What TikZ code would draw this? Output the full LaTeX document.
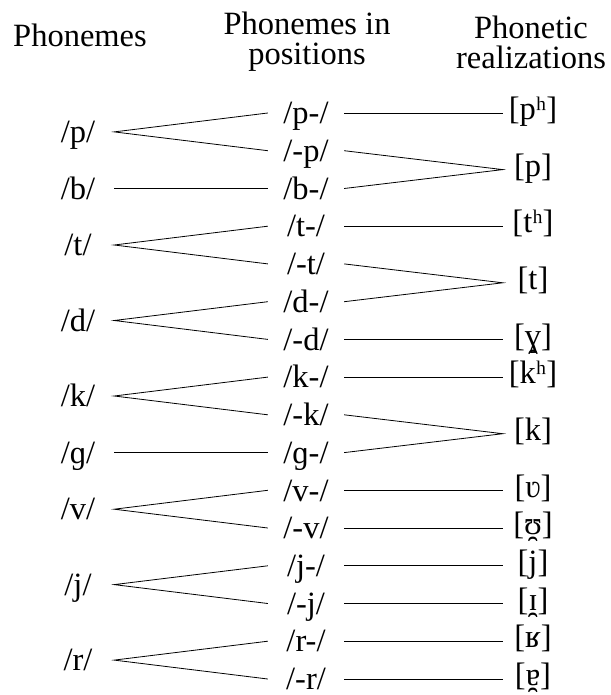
\documentclass[tikz,border=0pt]{standalone}
\usepackage{fontspec}
\setmainfont{Liberation Serif}
\newdimen\nsL \newdimen\nsR
% non-syllabic mark (U+032F) centred under its base letter
\newcommand\nsyl[2][0pt]{\leavevmode\hbox{%
  \setbox0\hbox{#2}%
  \setbox2\hbox{\char"032F}%
  \nsL=\XeTeXglyphbounds1 \XeTeXcharglyph"032F\relax
  \nsR=\XeTeXglyphbounds3 \XeTeXcharglyph"032F\relax
  \rlap{\kern\dimexpr0.5\wd0-(\nsL+\wd2-\nsR)/2\relax\lower#1\box2}%
  \box0}}
\begin{document}
\begin{tikzpicture}[x=1pt,y=1pt,
  every node/.style={font=\fontsize{32.5}{30}\selectfont},
  phon/.style={inner xsep=0pt, inner ysep=0pt, text height=22.75pt, text depth=1.3pt},
  leftph/.style={phon, minimum width=72pt},
  midph/.style={phon, minimum width=76pt},
  rightph/.style={phon, minimum width=60pt, text height=19.5pt, text depth=6.1pt},
  head/.style={inner sep=0pt, align=center},
  link/.style={line width=0.8pt}]
\useasboundingbox (0,0) rectangle (610,-695);
% headers
\node[head, anchor=base] (h1) at (80,-47) {Phonemes};
\node[head] (h2) at (307,-42) {Phonemes in\\positions};
\node[head] (h3) at (531,-42) {Phonetic\\realizations};
% middle column
\node[midph] (m0) at (306,-113) {/p-/};
\node[midph] (m1) at (306,-150.7) {/-p/};
\node[midph] (m2) at (306,-188.5) {/b-/};
\node[midph] (m3) at (306,-226.2) {/t-/};
\node[midph] (m4) at (306,-263.9) {/-t/};
\node[midph] (m5) at (306,-301.7) {/d-/};
\node[midph] (m6) at (306,-339.4) {/-d/};
\node[midph] (m7) at (306,-377.1) {/k-/};
\node[midph] (m8) at (306,-414.8) {/-k/};
\node[midph] (m9) at (306,-452.6) {/ɡ-/};
\node[midph] (m10) at (306,-490.3) {/v-/};
\node[midph] (m11) at (306,-528) {/-v/};
\node[midph] (m12) at (306,-565.8) {/j-/};
\node[midph] (m13) at (306,-603.5) {/-j/};
\node[midph] (m14) at (306,-641.2) {/r-/};
\node[midph] (m15) at (306,-679) {/-r/};
% left column
\node[leftph] (lp) at (78,-131.9) {/p/};
\node[leftph] (lb) at (78,-188.5) {/b/};
\node[leftph] (lt) at (78,-245) {/t/};
\node[leftph] (ld) at (78,-320.5) {/d/};
\node[leftph] (lk) at (78,-396) {/k/};
\node[leftph] (lg) at (78,-452.6) {/ɡ/};
\node[leftph] (lv) at (78,-509.2) {/v/};
\node[leftph] (lj) at (78,-584.6) {/j/};
\node[leftph] (lr) at (78,-660.1) {/r/};
% right column
\node[rightph] (rph) at (533,-113) {[pʰ]};
\node[rightph] (rp) at (533,-169.6) {[p]};
\node[rightph] (rth) at (533,-226.2) {[tʰ]};
\node[rightph] (rt) at (533,-282.8) {[t]};
\node[rightph] (rgam) at (533,-339.4) {[\nsyl[1.5pt]{ɣ}]};
\node[rightph] (rkh) at (533,-377.1) {[kʰ]};
\node[rightph] (rk) at (533,-433.7) {[k]};
\node[rightph] (rvu) at (533,-490.3) {[ʋ]};
\node[rightph] (rups) at (533,-528) {[\nsyl{ʊ}]};
\node[rightph] (rj) at (533,-565.8) {[j]};
\node[rightph] (rii) at (533,-603.5) {[\nsyl{ɪ}]};
\node[rightph] (rR) at (533,-641.2) {[ʁ]};
\node[rightph] (ra) at (533,-679) {[\nsyl{ɐ}]};
% left links
\draw[link] (m0.west) -- (lp.east) -- (m1.west);
\draw[link] (lb.east) -- (m2.west);
\draw[link] (m3.west) -- (lt.east) -- (m4.west);
\draw[link] (m5.west) -- (ld.east) -- (m6.west);
\draw[link] (m7.west) -- (lk.east) -- (m8.west);
\draw[link] (lg.east) -- (m9.west);
\draw[link] (m10.west) -- (lv.east) -- (m11.west);
\draw[link] (m12.west) -- (lj.east) -- (m13.west);
\draw[link] (m14.west) -- (lr.east) -- (m15.west);
% right links
\draw[link] (m0.east) -- (rph.west);
\draw[link] (m1.east) -- (rp.west) -- (m2.east);
\draw[link] (m3.east) -- (rth.west);
\draw[link] (m4.east) -- (rt.west) -- (m5.east);
\draw[link] (m6.east) -- (rgam.west);
\draw[link] (m7.east) -- (rkh.west);
\draw[link] (m8.east) -- (rk.west) -- (m9.east);
\draw[link] (m10.east) -- (rvu.west);
\draw[link] (m11.east) -- (rups.west);
\draw[link] (m12.east) -- (rj.west);
\draw[link] (m13.east) -- (rii.west);
\draw[link] (m14.east) -- (rR.west);
\draw[link] (m15.east) -- (ra.west);
\end{tikzpicture}
\end{document}
